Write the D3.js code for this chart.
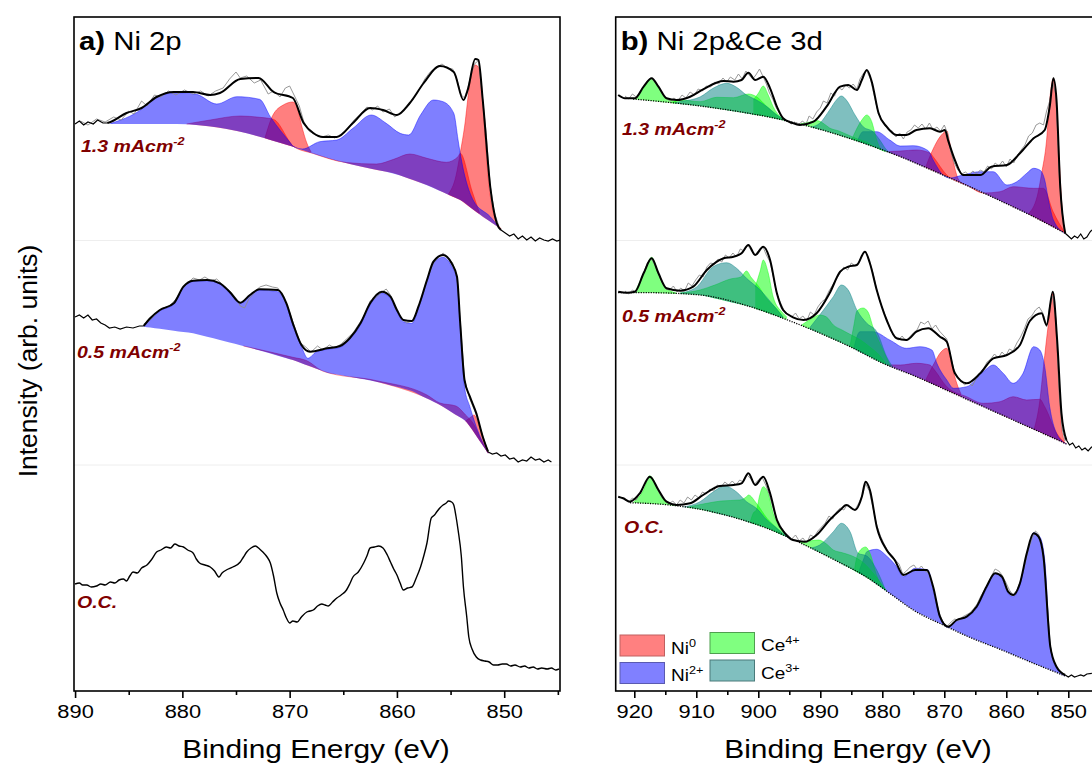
<!DOCTYPE html>
<html>
<head>
<meta charset="utf-8">
<script src="https://cdn.jsdelivr.net/npm/d3@7"></script>
<style>
  body { margin: 0; background: #fff; overflow: hidden; }
  text { font-family: "Liberation Sans", Arial, sans-serif; }
</style>
</head>
<body>
<svg id="chart" width="1092" height="765"></svg>
<script>
// ---- data: [binding energy (eV), intensity (arb.)] ----
// panel a, 1.3 mA cm-2
let a13_bg = [[887.0,567],[879.6,567],[875.9,562.7],[872.8,554.3],[869.7,544.3],[866.5,532.7],[863.4,524.3],[860.3,517.7],[857.2,506],[854.1,491],[852.0,474.3],[850.4,462.7],[850.1,461]];
let a13_ni0 = [
  [[879.6,567],[877.4,571],[874.6,575],[872.8,573.7],[871.5,571.7],[869.9,547.7],[869.7,545],[867.8,537.5],[864.7,528.5],[861.9,527],[860.3,531.7],[858.8,537],[857.2,532.7],[855.4,528.7],[854.3,534.3],[854.1,537.7],[853.0,500],[852.3,478]],
  [[872.3,553],[871.6,575],[870.6,586],[869.7,589],[869.3,584],[868.9,566],[868.4,548],[868.0,539]],
  [[855.2,497],[854.5,515],[854.1,538],[853.7,564],[853.2,608],[852.7,626],[852.4,624],[852.1,604],[851.8,558],[851.5,514],[851.2,488],[850.7,469],[850.3,462]]
];
let a13_ni2 = [
  [[886.7,567.5],[883.9,581],[882.4,594.3],[880.5,598.3],[878.7,596.7],[876.8,587],[874.9,594.3],[872.8,591.7],[871.8,574.3],[869.9,547.7],[869.7,545],[868.8,542],[867.2,549.3],[865.6,551],[864.1,562.7],[862.4,576],[861.0,567.7],[859.7,557.7],[858.9,556],[857.8,576],[856.6,591],[855.7,589.3],[854.7,577.7],[854.3,551],[854.1,537.7],[852.9,491],[851.3,474.3],[850.4,462.7]]
];
let a13_env = [[887.0,568],[886.7,569],[885.2,578],[883.8,583],[882.4,594],[880.8,599],[879.0,599],[877.4,596],[876.5,598],[874.6,612],[872.9,613],[871.5,599],[869.7,593],[868.7,568],[867.8,558],[866.9,554],[865.6,554],[864.1,568],[862.5,583],[861.3,581],[860.0,576],[858.8,588],[857.5,608],[856.0,625],[854.7,619],[853.8,591],[853.4,601],[852.7,632],[852.4,631],[852.0,591],[851.3,504],[850.7,468],[850.3,461]];
let a13_raw = [[889.5,570],[888.8,566],[888.0,572],[887.2,569],[886.4,574],[885.7,571],[885.0,580],[884.5,577],[883.8,590],[883.3,585],[882.6,596],[882.0,594],[881.3,600],[880.6,596],[879.8,601],[879.0,597],[878.3,600],[877.6,595],[876.9,600],[876.2,603],[875.6,612],[875.0,619],[874.6,613],[874.0,615],[873.3,608],[872.7,611],[872.0,597],[871.5,600],[870.9,594],[870.4,603],[870.0,605],[869.5,594],[869.1,585],[868.7,570],[868.2,560],[867.6,556],[867.0,554],[866.4,556],[865.8,553],[865.2,557],[864.6,562],[864.0,571],[863.4,577],[862.8,584],[862.3,581],[861.8,585],[861.3,579],[860.7,582],[860.2,574],[859.6,579],[859.1,583],[858.5,592],[858.0,600],[857.4,612],[856.9,619],[856.4,623],[855.8,627],[855.3,623],[854.8,622],[854.4,611],[854.0,596],[853.7,593],[853.4,603],[853.0,620],[852.7,628],[852.4,630],[852.1,600],[851.7,560],[851.3,505],[850.9,478],[850.5,465]];
let a13_tails = [
  [[890.0,567],[889.6,570],[889.2,566],[888.8,569],[888.3,567],[887.9,571],[887.4,568],[887.0,568]],
  [[850.3,461],[849.9,458],[849.5,455],[849.1,457],[848.7,452],[848.3,455],[847.9,451],[847.5,454],[847.1,450],[846.7,453],[846.3,451],[845.9,450],[845.5,452],[845.1,450],[844.8,451]]
];

// panel a, 0.5 mA cm-2
let a05_bg = [[883.6,364.3],[879.0,357.7],[874.3,345],[869.7,331],[866.5,318.3],[861.9,309.3],[858.8,301],[855.7,284.3],[853.5,269.3],[851.5,237.7]];
let a05_ni0 = [
  [[874.3,345],[869.7,333.7],[868.4,330.3],[866.9,319.3],[861.9,310.3],[857.2,296],[856.0,288],[854.5,285],[853.6,276],[852.8,266],[852.2,252],[851.5,237.7]],
  [[853.6,270],[853.1,274],[852.8,276],[852.5,270],[852.1,257],[851.8,247],[851.5,238]]
];
let a05_ni2 = [
  [[883.6,365],[883.0,371],[882.1,380],[880.8,387],[879.9,403.7],[879.0,409.7],[877.7,410.3],[876.5,407],[875.6,398.3],[874.6,387.7],[873.7,395],[872.8,401],[871.1,399.3],[870.3,386],[869.7,366],[868.9,344.3],[868.3,332.7],[867.5,339.3],[866.5,341.7],[865.3,343.7],[864.4,351.7],[863.4,366],[862.5,386],[861.4,397.7],[860.6,392.7],[860.0,379.3],[859.4,369.3],[858.6,367.7],[858.0,382.7],[857.2,409.3],[856.6,427.7],[855.7,433.7],[854.9,424.7],[854.4,411.3],[854.1,364.3],[853.7,304.3],[853.2,284.3],[852.6,264.3],[851.5,237.7]]
];
let a05_env = [[883.6,365],[883.0,372.7],[882.1,381],[880.8,387.7],[879.9,404.3],[879.0,410.3],[877.7,411],[876.5,407.7],[875.6,399.3],[874.6,388.3],[873.7,396],[872.8,401.7],[871.1,401],[870.3,387.7],[869.7,367.7],[868.9,346],[868.1,339.3],[866.5,342.7],[865.3,345],[864.4,352.7],[863.4,367.7],[862.5,387.7],[861.4,399.3],[860.6,394.3],[860.0,381],[859.4,371],[858.6,370],[858.0,384.3],[857.2,411],[856.6,429.3],[855.7,436],[854.9,427.7],[854.4,414.3],[854.1,367.7],[853.7,311],[853.2,294.3],[852.6,277.7],[852.0,254.3],[851.5,239.3]];
let a05_raw = [[883.6,367],[883.0,371],[882.4,378],[881.8,383],[881.2,385],[880.6,392],[880.0,402],[879.5,408],[879.0,413],[878.4,411],[877.9,414],[877.3,410],[876.8,412],[876.2,406],[875.6,400],[875.0,393],[874.6,385],[874.2,383],[873.8,392],[873.3,398],[872.8,404],[872.2,406],[871.6,404],[871.1,403],[870.6,394],[870.1,382],[869.6,366],[869.0,348],[868.5,344],[868.0,339],[867.4,345],[866.9,341],[866.3,346],[865.8,343],[865.2,347],[864.7,352],[864.1,358],[863.6,366],[863.0,376],[862.5,390],[862.0,393],[861.5,398],[861.0,402],[860.6,396],[860.1,382],[859.6,373],[859.1,368],[858.6,370],[858.1,380],[857.6,396],[857.1,414],[856.6,428],[856.1,434],[855.7,438],[855.2,433],[854.8,428],[854.4,414],[854.1,370],[853.7,311],[853.2,292],[852.6,276],[852.0,255],[851.5,239]];
let a05_tails = [
  [[890.0,374],[889.6,376],[889.2,373],[888.8,376],[888.4,371],[888.0,372],[887.6,368],[887.2,366],[886.8,363],[886.3,364],[885.8,362],[885.2,364],[884.6,363],[884.0,365],[883.6,365]],
  [[851.5,239],[851.1,237],[850.7,238],[850.3,235],[849.9,236],[849.5,232],[849.1,233],[848.7,229],[848.3,231],[847.9,230],[847.5,234],[847.1,231],[846.7,232],[846.3,229],[845.9,231],[845.6,229]]
];

// panel a, O.C. (no fit)
let aoc_line = [[890.0,107],[889.6,108],[889.3,106],[888.9,106],[888.5,104],[888.0,105],[887.6,107],[887.2,106],[886.7,109],[886.3,108],[885.9,111],[885.5,112],[885.2,110],[884.9,115],[884.6,119],[884.2,118],[883.8,123],[883.3,126],[882.9,131],[882.4,139],[882.0,141],[881.5,144],[881.1,143],[880.7,147],[880.3,145],[879.9,144],[879.5,141],[879.0,138],[878.7,132],[878.4,128],[877.9,126],[877.4,124],[877.0,120],[876.6,114],[876.3,118],[875.9,121],[875.3,124],[874.6,129],[874.3,134],[874.0,139],[873.6,143],[873.2,145],[872.8,142],[872.5,139],[872.1,134],[871.8,128],[871.5,115],[871.2,98],[870.9,88],[870.6,81],[870.3,73],[870.0,68],[869.7,70],[869.3,69],[868.9,74],[868.4,79],[868.1,80],[867.8,81],[867.4,85],[867.0,87],[866.7,86],[866.4,85],[866.0,89],[865.6,93],[865.2,96],[864.7,101],[864.4,107],[864.1,114],[863.6,119],[863.1,128],[862.8,135],[862.5,143],[862.1,144],[861.7,145],[861.3,143],[860.9,136],[860.6,129],[860.3,122],[860.0,116],[859.7,108],[859.4,101],[859.0,103],[858.6,104],[858.2,113],[857.8,124],[857.5,135],[857.2,148],[856.8,173],[856.5,176],[856.3,179],[856.0,183],[855.7,186],[855.4,188],[855.2,190],[854.9,189],[854.7,186],[854.5,175],[854.3,161],[854.0,135],[853.8,104],[853.5,75],[853.3,54],[853.0,42],[852.6,34],[852.2,31],[851.8,30],[851.4,29],[851.0,26],[850.6,26],[850.2,27],[849.8,27],[849.4,25],[849.0,26],[848.5,24],[848.1,25],[847.7,23],[847.3,24],[846.9,22],[846.5,23],[846.0,22],[845.6,23],[845.2,21],[844.9,22]];

// panel b, 1.3 mA cm-2
let b13_bg = [[920.2,592],[909.4,585],[898.6,574.3],[893.3,567],[887.9,557.7],[882.5,546.7],[877.1,534.3],[871.8,520.3],[866.4,505.7],[861.0,490.3],[855.6,474.3],[850.5,457.7]];
let b13_ni0 = [
  [[879.3,539.3],[877.1,540],[874.5,541],[872.3,538],[871.8,534.3],[869.6,516],[866.4,506],[863.7,498],[861.0,499.3],[858.9,504.3],[855.6,502.7],[854.0,502.7],[852.5,480],[850.5,457.7]],
  [[873.0,524],[872.0,539.3],[871.2,549.3],[870.2,557.7],[869.6,560.3],[869.1,547.7],[868.6,531],[867.8,512.7],[867.2,508],[866.8,507]],
  [[856.5,477],[855.0,495],[854.3,517.7],[853.5,551],[853.0,591],[852.4,612.7],[852.0,592],[851.4,524.3],[850.9,474.3],[850.5,457.7]]
];
let b13_ni2 = [
  [[884.0,550],[883.1,559.3],[880.9,559.3],[878.8,551],[877.1,545],[875.0,545.3],[872.6,540.3],[871.8,531],[870.2,514.3],[869.1,511],[867.0,516],[864.2,519.3],[862.1,519.3],[859.9,506],[858.3,509.3],[856.7,517.7],[855.6,522.7],[854.6,521],[853.8,511],[853.2,491],[852.4,471],[850.5,457.7]]
];
let b13_ce4 = [
  [[920.2,592],[919.9,592.5],[918.5,602.7],[917.2,612.7],[916.1,602.7],[914.8,592.7],[913.2,589.3]],
  [[914.0,588],[912.6,591],[909.4,589.3],[906.7,593.7],[904.0,593.3],[901.6,597],[900.3,594.3],[898.6,584.3],[897.0,576],[895.4,568.3]],
  [[900.8,591],[900.0,597.7],[899.2,605],[898.4,596],[897.6,584.3],[896.2,572.7],[895.4,568.3]],
  [[893.3,567],[891.7,569],[890.6,570.5],[889.6,568],[888.5,563],[887.0,560],[885.5,556],[884.0,552],[882.5,549],[881.0,543],[879.5,539]],
  [[884.9,551],[884.3,560],[883.3,571],[882.5,576],[881.7,569.3],[880.9,551],[880.1,541],[879.3,538.5]]
];
let b13_ce3 = [
  [[913.5,588],[912.6,589.3],[909.4,594],[907.3,602.7],[905.1,607.7],[903.5,603.7],[901.9,596],[900.3,591],[898.6,584.3],[897.0,576],[895.4,568.3]],
  [[891.5,563],[890.1,567.7],[888.5,581],[887.4,591],[886.6,595],[885.8,591],[884.4,576],[883.1,564.3],[881.5,559.3],[880.4,551],[879.3,541],[878.5,537]]
];
let b13_env = [[922.6,596],[921.5,592.7],[919.9,592.7],[918.5,604.3],[917.2,612.7],[916.1,604.3],[914.8,592.7],[913.2,591],[911.0,594.3],[908.9,601.7],[905.6,610],[904.0,609.3],[902.7,611],[901.6,618.3],[900.5,611],[899.2,614.3],[898.1,602.7],[897.0,584.3],[896.0,572.7],[894.6,568.3],[893.3,566],[891.1,569.3],[889.0,584.3],[886.8,604.3],[885.5,606],[884.1,601],[883.3,611],[882.5,621],[881.7,609.3],[880.6,577.7],[879.3,564.3],[877.7,556],[876.1,556],[874.5,561],[872.3,562.7],[870.7,559.3],[869.9,561],[869.4,551],[868.3,531],[867.0,516],[864.2,516],[862.4,524.3],[859.9,526],[857.8,537.7],[855.6,552.7],[853.8,561],[853.0,584.3],[852.4,612.7],[851.9,591],[851.3,504.3],[850.5,457.7]];
let b13_raw = [[921.5,595],[920.9,592],[920.3,597],[919.7,594],[919.0,600],[918.5,604],[917.9,610],[917.3,613],[916.7,609],[916.1,604],[915.5,597],[914.9,593],[914.2,590],[913.6,593],[913.0,590],[912.3,596],[911.7,593],[911.0,599],[910.3,596],[909.7,602],[909.0,600],[908.4,605],[907.7,604],[907.0,609],[906.4,607],[905.7,613],[905.1,609],[904.5,614],[903.8,611],[903.2,617],[902.6,612],[902.0,620],[901.5,616],[900.9,612],[900.4,616],[899.8,622],[899.2,614],[898.7,607],[898.2,598],[897.6,591],[897.1,583],[896.5,577],[895.9,572],[895.3,570],[894.7,567],[894.1,569],[893.5,566],[892.9,570],[892.3,567],[891.8,575],[891.2,572],[890.6,579],[890.0,583],[889.5,590],[888.9,588],[888.3,598],[887.7,595],[887.1,604],[886.5,601],[885.9,606],[885.3,603],[884.7,607],[884.1,602],[883.6,612],[883.0,618],[882.5,620],[881.9,612],[881.4,598],[880.8,582],[880.2,572],[879.6,566],[879.0,561],[878.4,560],[877.8,554],[877.2,558],[876.6,552],[876.0,559],[875.4,561],[874.8,566],[874.2,563],[873.6,567],[873.0,562],[872.4,568],[871.8,561],[871.2,564],[870.6,560],[870.0,566],[869.5,558],[869.0,540],[868.4,528],[867.8,521],[867.2,517],[866.6,519],[866.0,516],[865.4,520],[864.8,517],[864.2,521],[863.6,519],[863.0,525],[862.4,522],[861.8,528],[861.2,525],[860.6,530],[860.0,524],[859.4,532],[858.8,528],[858.2,536],[857.6,541],[857.0,546],[856.4,555],[855.8,558],[855.2,566],[854.6,568],[854.0,566],[853.5,580],[853.0,590],[852.5,608],[852.0,596],[851.5,520],[851.0,478],[850.6,460]];
let b13_tails = [[[850.5,457.7],[850.0,455],[849.5,452],[849.0,455],[848.5,453],[848.0,457],[847.5,452],[847.0,454],[846.5,459],[846.2,461]]];

// panel b, 0.5 mA cm-2
let b05_bg = [[922.6,398.3],[917.5,398.3],[909.4,396],[901.3,384.3],[896.0,372.7],[890.6,359.3],[885.2,344.3],[879.9,327.7],[874.5,314.3],[869.1,299.3],[863.7,284.3],[858.3,269.3],[852.9,254.3],[850.3,247]];
let b05_ni0 = [
  [[879.3,326],[877.1,326],[874.5,327.7],[872.3,326],[871.8,322.7],[869.6,304.3],[866.4,294.3],[863.7,287.7],[861.0,289.3],[858.9,294.3],[856.7,291],[854.6,291.7],[853.8,284.3],[851.9,258],[850.3,247]],
  [[873.0,311],[871.5,329.3],[870.7,337.7],[869.6,342.7],[869.1,335],[868.6,321],[867.8,304.3],[867.3,297]],
  [[855.5,262],[854.6,290],[854.0,324.3],[853.2,367.7],[852.5,397.7],[852.1,372],[851.6,317.7],[851.1,264.3],[850.6,250]]
];
let b05_ni2 = [
  [[884.6,342],[883.6,359.3],[881.5,359.3],[878.8,351],[876.1,342.7],[873.9,344.3],[872.0,341],[871.2,327.7],[869.6,311],[868.5,302.7],[866.4,304.3],[863.7,319.3],[862.1,326],[860.5,317.7],[858.9,307.7],[857.3,317.7],[855.6,344.3],[854.6,341],[853.8,324.3],[853.0,284.3],[851.9,257.7],[850.3,247]]
];
let b05_ce4 = [
  [[919.9,398.5],[918.5,417.7],[917.2,433.7],[916.1,417.7],[914.8,402.7],[913.2,398]],
  [[912.6,398],[909.4,401],[907.0,406],[904.5,412],[902.8,414],[901.9,420],[901.2,414],[900.0,405],[898.6,392],[897.0,382],[896.0,374]],
  [[900.5,404],[899.7,420],[899.2,431],[898.4,418],[897.6,394],[896.2,379],[895.4,374]],
  [[893.0,366],[891.5,372],[890.1,376],[889.0,374],[887.9,366],[886.5,361],[885.0,356],[883.5,351],[882.0,344],[880.5,336],[879.5,328]],
  [[885.2,345],[884.6,365],[884.1,380],[883.1,383],[882.3,379],[881.5,364],[879.9,341],[878.8,326]]
];
let b05_ce3 = [
  [[912.6,398],[909.9,404.3],[907.3,424.3],[905.1,428.3],[903.5,422.7],[901.9,412.7],[899.7,401],[897.6,386],[896.0,374]],
  [[891.8,362.5],[890.1,376],[887.9,394.3],[886.6,406],[885.5,401],[884.1,381],[882.5,367.7],[880.9,359.3],[879.3,334.3],[878.3,323]]
];
let b05_env = [[922.6,399.3],[921.2,398.3],[919.9,399.3],[918.5,417.7],[917.2,432.7],[916.1,417.7],[914.8,402.7],[912.6,400.3],[910.5,404.3],[908.3,421],[905.6,432.7],[904.0,434.3],[902.7,437.7],[901.6,446],[900.5,436],[899.2,444.3],[898.1,431],[897.0,397.7],[896.0,381],[894.4,373.7],[892.7,371],[890.6,377.7],[888.5,397.7],[886.8,419.3],[885.5,424.3],[884.1,426],[882.8,439.3],[882.0,427.7],[880.9,401],[879.3,371],[877.7,352.7],[876.1,351],[874.5,359.3],[872.6,362.7],[870.7,354.3],[869.6,349.3],[868.3,317.7],[866.4,307.7],[864.2,317.7],[862.1,332.7],[859.9,336],[857.8,346],[856.2,370],[854.3,377.7],[853.5,366],[852.5,399.3],[851.8,351],[851.1,277.7],[850.3,251]];
let b05_raw = [[921.5,400],[920.9,397],[920.3,401],[919.7,399],[919.1,408],[918.5,418],[917.9,428],[917.3,433],[916.7,426],[916.1,417],[915.5,408],[914.9,402],[914.3,401],[913.7,405],[913.1,399],[912.5,403],[911.9,400],[911.3,408],[910.7,405],[910.1,411],[909.5,416],[908.9,414],[908.3,424],[907.7,428],[907.1,427],[906.5,432],[905.9,429],[905.3,436],[904.7,433],[904.1,438],[903.5,434],[902.9,442],[902.3,440],[901.7,446],[901.1,440],[900.5,436],[899.9,441],[899.3,445],[898.7,436],[898.1,429],[897.5,412],[897.0,397],[896.4,388],[895.8,380],[895.2,377],[894.6,374],[894.0,378],[893.4,372],[892.8,375],[892.2,370],[891.6,379],[891.0,376],[890.4,384],[889.8,389],[889.2,392],[888.6,400],[888.0,406],[887.4,412],[886.8,418],[886.2,424],[885.6,421],[885.0,428],[884.4,425],[883.8,429],[883.2,436],[882.7,440],[882.1,430],[881.5,418],[881.0,404],[880.4,390],[879.8,380],[879.2,370],[878.6,360],[878.0,354],[877.4,351],[876.8,355],[876.2,350],[875.6,354],[875.0,358],[874.4,361],[873.8,369],[873.2,367],[872.6,370],[872.0,362],[871.4,366],[870.8,360],[870.2,356],[869.6,352],[869.1,338],[868.5,322],[867.9,314],[867.3,310],[866.7,306],[866.1,309],[865.5,305],[864.9,312],[864.3,317],[863.7,322],[863.1,329],[862.5,332],[861.9,337],[861.3,333],[860.7,339],[860.1,335],[859.5,342],[858.9,340],[858.3,348],[857.7,354],[857.1,362],[856.5,372],[855.9,375],[855.3,381],[854.7,384],[854.1,378],[853.5,364],[853.0,385],[852.5,395],[852.0,372],[851.5,300],[851.0,262],[850.5,250]];
let b05_tails = [[[850.3,251],[849.8,246],[849.3,248],[848.8,243],[848.3,245],[847.8,241],[847.3,243],[846.8,240],[846.2,244.3]]];

// panel b, O.C.
let boc_bg = [[920.7,188.3],[914.8,186.3],[909.4,181.7],[904.0,173.7],[898.6,162.7],[893.3,148.3],[887.9,131.7],[882.5,113.7],[878.8,97.7],[875.0,81],[869.6,64.3],[866.4,55],[861.0,41.7],[855.6,27.7],[850.5,15]];
let boc_ni2 = [
  [[883.8,119],[883.0,132],[882.5,139.3],[880.9,141.7],[879.3,135],[877.7,124.3],[876.6,114.3],[874.7,122.7],[872.6,121],[871.8,101],[870.7,74.3],[869.4,62.7],[868.0,71],[866.4,73.7],[864.8,82.7],[863.2,102.7],[861.8,117.7],[860.7,112.7],[859.7,97.7],[858.9,94.3],[857.8,106],[856.7,136],[855.6,158.3],[854.6,154.3],[853.8,131],[852.9,44.3],[851.9,23],[850.5,15]]
];
let boc_ce4 = [
  [[920.2,188.5],[918.5,201],[917.5,215.3],[916.1,201],[914.8,187.7],[913.2,185.3]],
  [[911.5,183.7],[908.3,187.7],[906.0,190],[903.0,191],[901.9,194.3],[901.6,196],[900.3,187.7],[898.6,172.7],[897.0,162.7],[895.8,155]],
  [[901.3,169],[900.8,178],[900.3,181],[899.8,195],[899.2,204.3],[898.4,197.7],[897.6,177.7],[896.2,161],[895.4,155]],
  [[893.3,148.5],[891.7,150],[890.3,151],[889.0,147],[887.9,141],[886.3,138],[884.5,134],[883.0,128],[881.5,118],[880.0,106],[879.3,100]],
  [[884.5,121],[883.9,137.7],[882.7,144],[882.0,138],[880.9,115.3],[879.5,101]]
];
let boc_ce3 = [
  [[912.1,184],[909.4,189.3],[907.3,199],[905.4,205],[903.5,199],[901.9,189.3],[900.3,182.7],[898.6,171],[897.0,162.7],[895.7,156],[895.0,153]],
  [[891.5,143],[890.1,146],[887.9,159.3],[886.6,167.7],[885.2,159.3],[883.9,137.7],[882.5,135],[880.9,121],[879.5,101]]
];
let boc_env = [[922.6,194.3],[921.8,192.7],[920.7,189.3],[919.1,197.7],[917.5,214.3],[916.1,201],[914.8,189.3],[913.2,186],[911.0,187.7],[908.9,196],[906.2,205],[904.0,206],[902.7,207.7],[901.6,217.7],[900.5,206],[899.2,214.3],[898.1,197.7],[897.0,171],[895.7,157.7],[894.4,151],[892.5,149.3],[890.6,156],[888.5,171],[886.8,181],[885.8,186],[884.4,181],[883.3,194.3],[882.7,209.3],[882.0,201],[880.9,164.3],[879.3,141],[878.0,131],[876.6,116],[874.7,121],[872.8,121],[871.8,104.3],[870.7,74.3],[869.4,64.3],[868.0,71],[866.4,74.3],[864.8,84.3],[863.2,104.3],[861.8,117.7],[860.7,114.3],[859.7,99.3],[858.9,96],[857.8,107.7],[856.7,137.7],[855.6,157.7],[854.8,154.3],[854.0,134.3],[852.9,44.3],[851.9,24.3],[850.5,16]];
let boc_raw = [[921.5,192],[920.9,189],[920.3,193],[919.7,191],[919.1,198],[918.5,205],[917.9,211],[917.4,215],[916.8,209],[916.2,201],[915.6,194],[915.0,190],[914.4,187],[913.8,190],[913.2,186],[912.6,191],[912.0,188],[911.4,194],[910.8,191],[910.2,196],[909.6,193],[909.0,199],[908.4,197],[907.8,202],[907.2,200],[906.6,206],[906.0,204],[905.4,209],[904.8,206],[904.2,210],[903.6,206],[903.0,211],[902.4,209],[901.8,216],[901.2,212],[900.6,207],[900.0,211],[899.4,214],[898.8,206],[898.2,196],[897.6,183],[897.0,172],[896.4,165],[895.8,159],[895.2,156],[894.6,152],[894.0,156],[893.4,150],[892.8,153],[892.2,148],[891.6,156],[891.0,154],[890.4,160],[889.8,164],[889.2,168],[888.6,175],[888.0,172],[887.4,179],[886.8,183],[886.2,181],[885.6,187],[885.0,183],[884.4,181],[883.8,188],[883.2,196],[882.7,207],[882.1,200],[881.5,183],[880.9,166],[880.3,155],[879.7,147],[879.1,140],[878.5,136],[877.9,131],[877.3,127],[876.7,117],[876.1,120],[875.5,124],[874.9,126],[874.3,121],[873.7,125],[873.1,120],[872.5,118],[871.9,106],[871.3,90],[870.7,76],[870.1,68],[869.5,65],[868.9,69],[868.3,72],[867.7,70],[867.1,74],[866.5,76],[865.9,78],[865.3,82],[864.7,87],[864.1,95],[863.5,101],[862.9,108],[862.3,116],[861.8,122],[861.2,120],[860.7,116],[860.1,109],[859.5,101],[858.9,96],[858.3,101],[857.7,110],[857.1,124],[856.5,140],[855.9,152],[855.3,160],[854.8,157],[854.3,145],[853.8,120],[853.3,80],[852.9,45],[852.4,30],[851.9,24],[851.4,20],[850.9,18],[850.5,16]];
let boc_tails = [[[850.5,16],[850.0,14],[849.5,16],[849.0,14],[848.5,15],[848.0,16],[847.5,15],[847.0,17],[846.2,17.7]]];

// axes and labels
let ticksA = [890, 880, 870, 860, 850];
let minorA = [885, 875, 865, 855, 845];
let ticksB = [920, 910, 900, 890, 880, 870, 860, 850];
let minorB = [915, 905, 895, 885, 875, 865, 855];
let legendItems = [
  { name: "Ni", sup: "0", fill: "#ff8080", edge: "#c06060", col: 0, row: 0 },
  { name: "Ni", sup: "2+", fill: "#8080ff", edge: "#5a5ab0", col: 0, row: 1 },
  { name: "Ce", sup: "4+", fill: "#80ff80", edge: "#4f9f4f", col: 1, row: 0 },
  { name: "Ce", sup: "3+", fill: "#80bfbf", edge: "#4a7a7a", col: 1, row: 1 }
];

// ---- drawing ----
const svg = d3.select("#chart");
const STRETCH = 1.15;
const y = d3.scaleLinear().domain([0, 674]).range([691, 17]);
const xA = d3.scaleLinear().domain([890.1, 844.8]).range([74, 560]);
const xB = d3.scaleLinear().domain([923, 845]).range([615.7, 1099.3]);

const COLORS = { ni0: "#ff0000", ni2: "#0000ff", ce4: "#00ff00", ce3: "#008080" };

function bgAt(bg, e) {
  if (e >= bg[0][0]) return bg[0][1];
  for (let i = 0; i < bg.length - 1; i++) {
    let a = bg[i], b = bg[i + 1];
    if (e <= a[0] && e >= b[0]) return a[1] + (b[1] - a[1]) * (a[0] - e) / (a[0] - b[0]);
  }
  return bg[bg.length - 1][1];
}

svg.append("defs").selectAll("clipPath")
  .data([["clipA", xA], ["clipB", xB]])
  .join("clipPath").attr("id", d => d[0])
  .append("rect")
  .attr("x", d => d[1].range()[0]).attr("y", 17)
  .attr("width", d => d[1].range()[1] - d[1].range()[0]).attr("height", 674);

function drawSpectrum(g, x, s) {
  let top = d => y(Math.max(d[1], bgAt(s.bg, d[0])));
  let area = d3.area().x(d => x(d[0])).y0(d => y(bgAt(s.bg, d[0]))).y1(top).curve(d3.curveMonotoneX);
  let edge = d3.line().x(d => x(d[0])).y(top).curve(d3.curveMonotoneX);
  ["ni0", "ni2", "ce4", "ce3"].forEach(k => {
    (s[k] || []).forEach(p => {
      g.append("path").attr("d", area(p)).attr("fill", COLORS[k]).attr("fill-opacity", 0.5);
      g.append("path").attr("d", edge(p)).attr("fill", "none")
        .attr("stroke", COLORS[k]).attr("stroke-opacity", 0.55).attr("stroke-width", 0.8);
    });
  });
  let smooth = d3.line().x(d => x(d[0])).y(d => y(d[1])).curve(d3.curveMonotoneX);
  let rough = d3.line().x(d => x(d[0])).y(d => y(d[1]));
  if (s.dotted) {
    g.append("path").attr("d", smooth(s.bg)).attr("fill", "none")
      .attr("stroke", "#000").attr("stroke-width", 1.3).attr("stroke-dasharray", "1.2,1.3");
  }
  if (s.raw) g.append("path").attr("d", rough(s.raw)).attr("fill", "none")
    .attr("stroke", "#8c8c8c").attr("stroke-width", 0.9);
  if (s.env) g.append("path").attr("d", smooth(s.env)).attr("fill", "none")
    .attr("stroke", "#000").attr("stroke-width", 2);
  (s.tails || []).forEach(t => {
    g.append("path").attr("d", rough(t)).attr("fill", "none")
      .attr("stroke", "#000").attr("stroke-width", 1.2);
  });
  if (s.line) g.append("path").attr("d", smooth(s.line)).attr("fill", "none")
    .attr("stroke", "#000").attr("stroke-width", 1.4);
}

function stretchedText(g, x, yy, size, anchor) {
  return g.append("text")
    .attr("transform", `translate(${x},${yy}) scale(${STRETCH},1)`)
    .attr("font-size", size).attr("text-anchor", anchor || "start");
}

function drawPanel(x, clipId, spectra, ticks, minor, title, sampleLabels) {
  let g = svg.append("g");
  // faint separators between stacked spectra
  [240.5, 465].forEach(yy => {
    g.append("line").attr("x1", x.range()[0]).attr("x2", x.range()[1])
      .attr("y1", yy).attr("y2", yy).attr("stroke", "#eeeeee").attr("stroke-width", 1);
  });
  let plot = g.append("g").attr("clip-path", `url(#${clipId})`);
  spectra.forEach(s => drawSpectrum(plot, x, s));

  // frame
  g.append("rect").attr("x", x.range()[0]).attr("y", 17)
    .attr("width", x.range()[1] - x.range()[0]).attr("height", 674)
    .attr("fill", "none").attr("stroke", "#000").attr("stroke-width", 1.6);

  // bottom axis: major + minor ticks
  let ax = g.append("g").attr("transform", "translate(0,691)")
    .call(d3.axisBottom(x).tickValues(ticks).tickSize(7).tickPadding(6.5).tickFormat(d3.format("d")));
  ax.select(".domain").remove();
  ax.selectAll("line").attr("stroke-width", 1.6);
  ax.selectAll("text").attr("font-size", 19).attr("font-family", "Liberation Sans, Arial, sans-serif")
    .attr("fill", "#000").attr("transform", `scale(${STRETCH},1)`);
  let axm = g.append("g").attr("transform", "translate(0,691)")
    .call(d3.axisBottom(x).tickValues(minor).tickSize(4).tickFormat(""));
  axm.select(".domain").remove();
  axm.selectAll("line").attr("stroke-width", 1.6);

  // panel title
  let t = stretchedText(g, x.range()[0] + 5, 50, 25.5);
  t.append("tspan").attr("font-weight", "bold").text(title[0]);
  t.append("tspan").text(" " + title[1]);

  // x axis title
  stretchedText(g, title[2], 758, 26, "middle").text("Binding Energy (eV)");

  // sample labels
  sampleLabels.forEach(l => {
    let tt = stretchedText(g, l.x, l.y, 17).attr("font-weight", "bold")
      .attr("font-style", "italic").attr("fill", "#800000");
    tt.append("tspan").text(l.text);
    if (l.sup) tt.append("tspan").attr("font-size", 11).attr("dy", -7).text(l.sup);
  });
}

drawPanel(xA, "clipA", [
  { bg: a13_bg, ni0: a13_ni0, ni2: a13_ni2, env: a13_env, raw: a13_raw, tails: a13_tails },
  { bg: a05_bg, ni0: a05_ni0, ni2: a05_ni2, env: a05_env, raw: a05_raw, tails: a05_tails },
  { bg: [[890, 0]], line: aoc_line }
], ticksA, minorA, ["a)", "Ni 2p", 316], [
  { x: 81, y: 152, text: "1.3 mAcm", sup: "-2" },
  { x: 77, y: 358, text: "0.5 mAcm", sup: "-2" },
  { x: 77, y: 608, text: "O.C." }
]);

drawPanel(xB, "clipB", [
  { bg: b13_bg, ni0: b13_ni0, ni2: b13_ni2, ce4: b13_ce4, ce3: b13_ce3, env: b13_env, raw: b13_raw, tails: b13_tails, dotted: true },
  { bg: b05_bg, ni0: b05_ni0, ni2: b05_ni2, ce4: b05_ce4, ce3: b05_ce3, env: b05_env, raw: b05_raw, tails: b05_tails, dotted: true },
  { bg: boc_bg, ni2: boc_ni2, ce4: boc_ce4, ce3: boc_ce3, env: boc_env, raw: boc_raw, tails: boc_tails, dotted: true }
], ticksB, minorB, ["b)", "Ni 2p&Ce 3d", 858], [
  { x: 622, y: 135, text: "1.3 mAcm", sup: "-2" },
  { x: 622, y: 322, text: "0.5 mAcm", sup: "-2" },
  { x: 624, y: 533, text: "O.C." }
]);

// legend (panel b)
let leg = svg.append("g");
legendItems.forEach(it => {
  let lx = it.col === 0 ? 620 : 710;
  let ly = it.col === 0 ? 635 + it.row * 27.5 : 632.5 + it.row * 27.5;
  leg.append("rect").attr("x", lx).attr("y", ly).attr("width", 44.5).attr("height", 21)
    .attr("fill", it.fill).attr("stroke", it.edge).attr("stroke-width", 1);
  let tt = stretchedText(leg, lx + 51, ly + 18.5, 16.5);
  tt.append("tspan").text(it.name);
  tt.append("tspan").attr("font-size", 11).attr("dy", -7).text(it.sup);
});

// y axis title
svg.append("text")
  .attr("transform", "translate(37,361) rotate(-90)")
  .attr("text-anchor", "middle").attr("font-size", 26.5)
  .text("Intensity (arb. units)");
</script>
</body>
</html>
